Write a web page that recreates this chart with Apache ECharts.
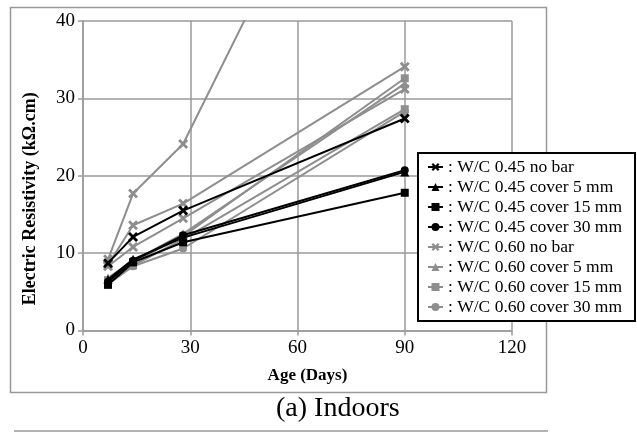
<!DOCTYPE html>
<html>
<head>
<meta charset="utf-8">
<script src="https://cdn.jsdelivr.net/npm/echarts@6/dist/echarts.min.js"></script>
<style>html,body{margin:0;padding:0;background:#fff}#c{width:637px;height:432px}</style>
</head>
<body>
<div id="c"></div>
<script>
// ---- data ----
const days = [7, 14, 28, 90];
const xTicks = [0, 30, 60, 90, 120];
const yTicks = [0, 10, 20, 30, 40];

const wc45NoBar   = [8.7, 12.1, 15.5, 27.4];
const wc45Cover5  = [6.6, 9.2, 12.0, 20.5];
const wc45Cover15 = [5.9, 8.8, 11.4, 17.8];
const wc45Cover30 = [6.3, 9.0, 12.3, 20.7];
const wc60NoBar   = [9.2, 17.7, 24.1, 81.8];
const wc60Cover5  = [6.8, 9.0, 12.5, 31.9];
const wc60Cover15 = [6.5, 8.8, 12.2, 32.6];
const wc60Cover30 = [6.0, 8.3, 10.6, 28.3];
// additional unlabeled grey curves visible in the figure
const extraX1     = [8.5, 13.6, 16.4, 34.1];
const extraX2     = [8.3, 10.8, 14.5, 31.2];
const extraSq     = [6.2, 8.4, 11.8, 28.6];

const names = [
  ': W/C 0.45 no bar', ': W/C 0.45 cover 5 mm', ': W/C 0.45 cover 15 mm', ': W/C 0.45 cover 30 mm',
  ': W/C 0.60 no bar', ': W/C 0.60 cover 5 mm', ': W/C 0.60 cover 15 mm', ': W/C 0.60 cover 30 mm'
];

const BLACK = '#000000', GREY = '#8e8e8e';
const crossPath = 'path://M2,0 L5,3 L8,0 L10,2 L7,5 L10,8 L8,10 L5,7 L2,10 L0,8 L3,5 L0,2 Z';

function mk(name, vals, color, symbol, size, z) {
  return {
    name: name, type: 'line',
    data: days.map((d, i) => [d, vals[i]]),
    symbol: symbol, symbolSize: size,
    lineStyle: {color: color, width: 2},
    itemStyle: {color: color},
    z: z || 2,
    clip: true
  };
}

const series = [
  mk('gx1', extraX1, GREY, crossPath, 10, 1),
  mk('gx2', extraX2, GREY, crossPath, 10, 1),
  mk('gsq', extraSq, GREY, 'rect', 8, 1),
  mk(names[4], wc60NoBar, GREY, crossPath, 10, 1),
  mk(names[5], wc60Cover5, GREY, 'triangle', 9, 1),
  mk(names[6], wc60Cover15, GREY, 'rect', 8, 1),
  mk(names[7], wc60Cover30, GREY, 'circle', 8, 1),
  mk(names[0], wc45NoBar, BLACK, crossPath, 10, 3),
  mk(names[1], wc45Cover5, BLACK, 'triangle', 9, 3),
  mk(names[2], wc45Cover15, BLACK, 'rect', 8, 3),
  mk(names[3], wc45Cover30, BLACK, 'circle', 8, 3)
];

const chart = echarts.init(document.getElementById('c'), null, {renderer: 'canvas'});
const FONT = 'Liberation Serif';
const GRID = '#9a9a9a';

chart.setOption({
  animation: false,
  backgroundColor: '#fff',
  textStyle: {fontFamily: FONT},
  grid: {left: 83, right: 125, top: 21, bottom: 101.5, containLabel: false},
  xAxis: {
    type: 'value', min: xTicks[0], max: xTicks[xTicks.length - 1], interval: 30,
    name: 'Age (Days)', nameLocation: 'middle', nameGap: 37,
    nameTextStyle: {fontFamily: FONT, fontWeight: 'bold', fontSize: 17, color: '#000', padding: [0, 0, 0, 20]},
    axisLine: {onZero: false, lineStyle: {color: GRID, width: 1.5}},
    axisTick: {show: true, length: 5, lineStyle: {color: GRID, width: 1.5}},
    axisLabel: {fontFamily: FONT, fontSize: 19, color: '#000', margin: 8},
    splitLine: {show: true, lineStyle: {color: GRID, width: 1.5}}
  },
  yAxis: {
    type: 'value', min: yTicks[0], max: yTicks[yTicks.length - 1], interval: 10,
    name: 'Electric Resistivity (kΩ.cm)', nameLocation: 'middle', nameGap: 44,
    nameTextStyle: {fontFamily: FONT, fontWeight: 'bold', fontSize: 18, color: '#000', padding: [0, 46, 0, 0]},
    axisLine: {show: true, lineStyle: {color: GRID, width: 1.5}},
    axisTick: {show: true, length: 5, lineStyle: {color: GRID, width: 1.5}},
    axisLabel: {fontFamily: FONT, fontSize: 19, color: '#000', margin: 8},
    splitLine: {show: true, lineStyle: {color: GRID, width: 1.5}}
  },
  legend: {
    data: names,
    orient: 'vertical',
    left: 418, top: 153,
    backgroundColor: '#fff',
    borderColor: '#000', borderWidth: 2, borderRadius: 0,
    padding: [4, 13, 4, 9],
    itemGap: 0,
    itemWidth: 15, itemHeight: 10,
    textStyle: {fontFamily: FONT, fontSize: 17.5, color: '#000', lineHeight: 20},
    z: 10
  },
  graphic: [
    {type: 'rect', z: -10, shape: {x: 10.5, y: 7.5, width: 536, height: 385},
     style: {fill: null, stroke: '#999', lineWidth: 1.5}, silent: true},
    {type: 'line', z: -10, shape: {x1: 14, y1: 431, x2: 548, y2: 431},
     style: {stroke: '#999', lineWidth: 1.5}, silent: true},
    {type: 'text', left: 276, top: 395,
     style: {text: '(a) Indoors', font: '28px "Liberation Serif"', fill: '#000'}}
  ],
  series: series
});
</script>
</body>
</html>
